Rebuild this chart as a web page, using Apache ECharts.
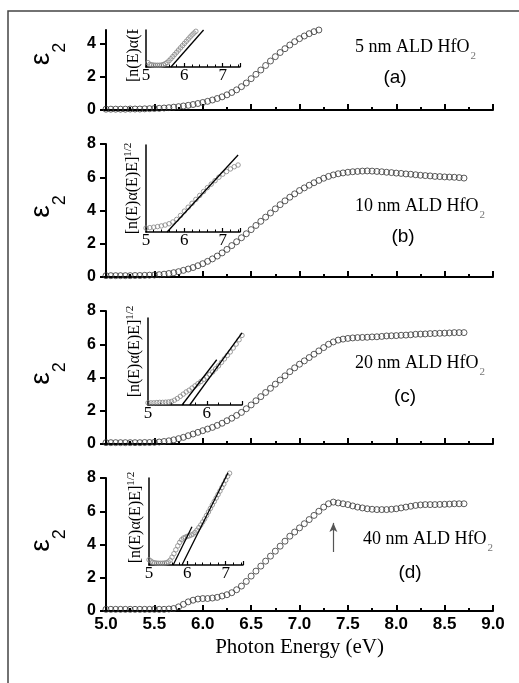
<!DOCTYPE html>
<html>
<head>
<meta charset="utf-8">
<script src="https://cdn.jsdelivr.net/npm/echarts@6/dist/echarts.min.js"></script>
<style>
html,body{margin:0;padding:0;background:#fff;}
#c{width:519px;height:683px;}
</style>
</head>
<body>
<div id="c"></div>
<script>
// ---- data ----
const energy = [5.00,5.05,5.10,5.15,5.20,5.25,5.30,5.35,5.40,5.45,5.50,5.55,5.60,5.65,5.70,5.75,5.80,5.85,5.90,5.95,
  6.00,6.05,6.10,6.15,6.20,6.25,6.30,6.35,6.40,6.45,6.50,6.55,6.60,6.65,6.70,6.75,6.80,6.85,6.90,6.95,
  7.00,7.05,7.10,7.15,7.20,7.25,7.30,7.35,7.40,7.45,7.50,7.55,7.60,7.65,7.70,7.75,7.80,7.85,7.90,7.95,
  8.00,8.05,8.10,8.15,8.20,8.25,8.30,8.35,8.40,8.45,8.50,8.55,8.60,8.65,8.70];

const eps2_5nm = [0.05,0.05,0.05,0.05,0.05,0.06,0.06,0.06,0.07,0.08,
  0.09,0.10,0.12,0.14,0.17,0.20,0.24,0.28,0.33,0.39,
  0.45,0.52,0.60,0.69,0.79,0.91,1.05,1.21,1.40,1.62,
  1.88,2.14,2.40,2.67,2.94,3.20,3.45,3.68,3.90,4.10,
  4.28,4.44,4.58,4.70,4.80];

const eps2_10nm = [0.08,0.08,0.08,0.08,0.08,0.08,0.09,0.09,0.10,0.11,
  0.12,0.14,0.17,0.21,0.26,0.32,0.40,0.48,0.57,0.68,
  0.80,0.94,1.09,1.26,1.45,1.66,1.89,2.12,2.36,2.60,
  2.85,3.10,3.35,3.60,3.85,4.10,4.35,4.58,4.80,5.00,
  5.20,5.36,5.52,5.67,5.81,5.94,6.05,6.14,6.21,6.26,
  6.30,6.33,6.35,6.37,6.38,6.37,6.35,6.33,6.30,6.28,
  6.25,6.23,6.20,6.18,6.15,6.12,6.10,6.08,6.05,6.04,
  6.02,6.01,6.00,5.98,5.95];

const eps2_20nm = [0.08,0.08,0.08,0.08,0.08,0.08,0.08,0.08,0.09,0.09,
  0.10,0.12,0.15,0.19,0.25,0.32,0.40,0.50,0.60,0.70,
  0.80,0.90,1.00,1.12,1.25,1.40,1.55,1.72,1.90,2.12,
  2.35,2.60,2.85,3.10,3.35,3.60,3.85,4.10,4.35,4.58,
  4.80,5.00,5.20,5.40,5.60,5.80,6.00,6.14,6.25,6.31,
  6.35,6.38,6.40,6.41,6.42,6.44,6.45,6.47,6.50,6.51,
  6.52,6.54,6.55,6.57,6.60,6.61,6.62,6.64,6.65,6.66,
  6.67,6.68,6.70,6.70,6.70];

const eps2_40nm = [0.10,0.10,0.10,0.10,0.10,0.10,0.10,0.10,0.10,0.10,
  0.10,0.10,0.10,0.12,0.15,0.25,0.40,0.55,0.65,0.72,
  0.75,0.75,0.78,0.82,0.90,0.98,1.10,1.28,1.50,1.78,
  2.10,2.40,2.70,3.00,3.30,3.60,3.90,4.20,4.50,4.75,
  5.00,5.25,5.50,5.75,6.00,6.25,6.45,6.55,6.50,6.45,
  6.40,6.32,6.25,6.20,6.15,6.12,6.10,6.10,6.10,6.12,
  6.15,6.20,6.25,6.30,6.35,6.38,6.40,6.40,6.40,6.41,
  6.42,6.43,6.45,6.45,6.45];

// insets: [n(E)α(E)E]^1/2 (arbitrary units)
const insetA_E = [5.05,5.10,5.15,5.20,5.25,5.30,5.35,5.40,5.45,5.50,5.55,5.60,5.65,5.70,5.75,5.80,5.85,5.90,5.95,6.00,6.05,6.10,6.15,6.20,6.25,6.30];
const insetA_v = [0.50,0.30,0.25,0.22,0.20,0.20,0.20,0.22,0.28,0.38,0.52,0.72,0.95,1.20,1.45,1.70,1.95,2.20,2.45,2.70,2.95,3.20,3.45,3.68,3.90,4.10];
const insetA_fit = [[5.65,0],[6.5,4.25]];

const insetB_E = [5.0,5.1,5.2,5.3,5.4,5.5,5.6,5.7,5.8,5.9,6.0,6.1,6.2,6.3,6.4,6.5,6.6,6.7,6.8,6.9,7.0,7.1,7.2,7.3,7.4];
const insetB_v = [0.45,0.50,0.55,0.62,0.70,0.80,0.95,1.15,1.45,1.90,2.40,2.85,3.30,3.75,4.20,4.65,5.10,5.50,5.90,6.30,6.65,6.95,7.25,7.50,7.70];
const insetB_fit = [[5.55,0],[7.4,8.85]];

const insetC_E = [5.00,5.05,5.10,5.15,5.20,5.25,5.30,5.35,5.40,5.45,5.50,5.55,5.60,5.65,5.70,5.75,5.80,5.85,5.90,5.95,6.00,6.05,6.10,6.15,6.20,6.25,6.30,6.35,6.40,6.45,6.50,6.55,6.60];
const insetC_v = [0.25,0.25,0.25,0.28,0.30,0.30,0.32,0.35,0.40,0.55,0.75,1.00,1.25,1.50,1.70,1.95,2.20,2.45,2.70,2.95,3.20,3.50,3.80,4.15,4.50,4.90,5.30,5.70,6.10,6.55,7.00,7.50,8.00];
const insetC_fit1 = [[5.58,0],[6.17,5.2]];
const insetC_fit2 = [[5.71,0],[6.6,8.3]];

const insetD_E = [5.00,5.05,5.10,5.15,5.20,5.25,5.30,5.35,5.40,5.45,5.50,5.55,5.60,5.65,5.70,5.75,5.80,5.85,5.90,5.95,6.00,6.05,6.10,6.15,6.20,6.25,6.30,6.35,6.40,6.45,6.50,6.55,6.60,6.65,6.70,6.75,6.80,6.85,6.90,6.95,7.00,7.05,7.10];
const insetD_v = [0.60,0.45,0.30,0.25,0.22,0.20,0.20,0.20,0.22,0.25,0.35,0.55,0.90,1.30,1.75,2.20,2.60,2.90,3.10,3.20,3.30,3.35,3.45,3.55,3.75,4.00,4.30,4.60,4.95,5.30,5.70,6.10,6.50,6.90,7.30,7.70,8.10,8.50,8.90,9.30,9.75,10.20,10.55];
const insetD_fit1 = [[5.63,0],[6.12,4.4]];
const insetD_fit2 = [[5.86,0],[7.06,10.6]];

const arrowE = 7.35;
const arrowFromTo = [3.55, 5.3];

const panelLabels = ['5 nm ALD HfO', '10 nm ALD HfO', '20 nm ALD HfO', '40 nm ALD HfO'];
const panelLetters = ['(a)', '(b)', '(c)', '(d)'];

// ---- chart ----
const pairs = (xs, ys) => ys.map((v, i) => [xs[i], v]);
const mainSeriesData = [eps2_5nm, eps2_10nm, eps2_20nm, eps2_40nm];

const mainGrids = [
  {left:106, top:30, width:387, height:80},
  {left:106, top:144, width:387, height:133},
  {left:106, top:311, width:387, height:133},
  {left:106, top:478, width:387, height:133}
];
const insetGrids = [
  {left:146, top:30, width:94, height:37},
  {left:146, top:145, width:94, height:87},
  {left:148, top:318, width:94, height:87},
  {left:149, top:478, width:94, height:87}
];
const grids = mainGrids.concat(insetGrids).map(g => Object.assign({outerBoundsMode:'none', containLabel:false}, g));

const sans = 'Liberation Sans';
const serif = 'Liberation Serif';

const xAxes = [];
const yAxes = [];
for (let i = 0; i < 4; i++) {
  xAxes.push({
    type:'value', gridIndex:i, min:5, max:9, interval:0.5,
    axisLine:{show:true, onZero:false, lineStyle:{color:'#000', width:2}},
    axisTick:{show:true, inside:true, length:6, lineStyle:{color:'#000', width:2}},
    minorTick:{show:true, splitNumber:2, length:3, lineStyle:{color:'#000', width:2}},
    splitLine:{show:false}, minorSplitLine:{show:false},
    axisLabel:{show:i===3, fontFamily:sans, fontWeight:'bold', fontSize:17, color:'#000', margin:5,
      formatter: v => v.toFixed(1)},
    name: i===3 ? 'Photon Energy (eV)' : '',
    nameLocation:'middle', nameGap:26,
    nameTextStyle:{fontFamily:serif, fontSize:21, color:'#000'}
  });
  yAxes.push({
    type:'value', gridIndex:i, min:0, max: i===0 ? 4.8 : 8, interval:2,
    axisLine:{show:true, onZero:false, lineStyle:{color:'#000', width:2}},
    axisTick:{show:true, length:6, lineStyle:{color:'#000', width:2}},
    splitLine:{show:false},
    axisLabel:{fontFamily:sans, fontWeight:'bold', fontSize:16, color:'#000', margin:10},
    name:'{e|ε}{s|2}', nameLocation:'middle', nameRotate:90, nameGap:49,
    nameTextStyle:{
      padding: i===0 ? [0,0,0,32] : [0,0,0,8],
      rich:{
        e:{fontFamily:sans, fontSize:28, color:'#000', verticalAlign:'top', lineHeight:30},
        s:{fontFamily:sans, fontSize:18, color:'#000', verticalAlign:'top', lineHeight:18, padding:[24,0,0,0]}
      }
    }
  });
}
const insetXMax = [7.45, 7.45, 6.6, 7.45];
const insetYMax = [4.25, 10, 10, 10];
const insetNamePad = [0, 0, 20, 8];
for (let k = 0; k < 4; k++) {
  xAxes.push({
    type:'value', gridIndex:4+k, min:5, max:insetXMax[k], interval:1,
    axisLine:{show:true, onZero:false, lineStyle:{color:'#000', width:1.5}},
    axisTick:{show:true, inside:true, length:4, lineStyle:{color:'#000', width:1.2}},
    minorTick:{show:true, splitNumber:5, length:2.5, lineStyle:{color:'#000', width:1}},
    splitLine:{show:false},
    axisLabel:{fontFamily:serif, fontSize:17, color:'#000', margin:0, showMaxLabel:false}
  });
  yAxes.push({
    type:'value', gridIndex:4+k, min:0, max:insetYMax[k],
    axisLine:{show:true, onZero:false, lineStyle:{color:'#000', width:1.5}},
    axisTick:{show:false}, axisLabel:{show:false}, splitLine:{show:false},
    name: k===0 ? '' : '{m|[n(E)α(E)E]}{s|1/2}',
    nameLocation:'middle', nameRotate:90, nameGap:5,
    nameTextStyle:{
      padding:[0,0,0,insetNamePad[k]],
      rich:{
        m:{fontFamily:serif, fontSize:16, color:'#000', lineHeight:18, verticalAlign:'bottom'},
        s:{fontFamily:serif, fontSize:11, color:'#000', lineHeight:12, verticalAlign:'top'}
      }
    }
  });
}

const series = [];
for (let i = 0; i < 4; i++) {
  const s = {
    type:'scatter', xAxisIndex:i, yAxisIndex:i,
    data: pairs(energy, mainSeriesData[i]),
    symbol:'circle', symbolSize:6,
    itemStyle:{color:'rgba(255,255,255,0)', borderColor:'#333', borderWidth:1},
    silent:true
  };
  if (i === 3) {
    s.markLine = {
      silent:true, symbol:['none','arrow'], symbolSize:[6,9],
      label:{show:false},
      lineStyle:{color:'#555', width:1.2, type:'solid'},
      data:[[{coord:[arrowE, arrowFromTo[0]]},{coord:[arrowE, arrowFromTo[1]]}]]
    };
  }
  series.push(s);
}
const insetData = [pairs(insetA_E, insetA_v), pairs(insetB_E, insetB_v), pairs(insetC_E, insetC_v), pairs(insetD_E, insetD_v)];
const insetFits = [[insetA_fit], [insetB_fit], [insetC_fit1, insetC_fit2], [insetD_fit1, insetD_fit2]];
for (let k = 0; k < 4; k++) {
  series.push({
    type:'scatter', xAxisIndex:4+k, yAxisIndex:4+k, data: insetData[k],
    symbol:'circle', symbolSize:4.5, clip:false,
    itemStyle:{color:'rgba(255,255,255,0)', borderColor:'#858585', borderWidth:1},
    silent:true
  });
  insetFits[k].forEach(f => series.push({
    type:'line', xAxisIndex:4+k, yAxisIndex:4+k, data:f,
    symbol:'none', showSymbol:false, clip:false,
    lineStyle:{color:'#000', width:1.3}, silent:true, z:3
  }));
}

const annPos = [[355,48,395,78],[355,207,403,237],[355,364,405,397],[363,540,410,573]];
const graphic = [];
for (let i = 0; i < 4; i++) {
  graphic.push({
    type:'text', x:annPos[i][0], y:annPos[i][1], z:50,
    style:{text:'{t|' + panelLabels[i] + '}{s|2}', align:'left', verticalAlign:'middle',
      rich:{
        t:{fontFamily:serif, fontSize:18, fill:'#000', lineHeight:20, verticalAlign:'top'},
        s:{fontFamily:serif, fontSize:11, fill:'#777', lineHeight:11, verticalAlign:'top', padding:[13,0,0,1]}
      }}
  });
  graphic.push({
    type:'text', x:annPos[i][2], y:annPos[i][3], z:50,
    style:{text:panelLetters[i], align:'center', verticalAlign:'middle', fontFamily:sans, fontSize:19, fill:'#000'}
  });
}
// clipped inset (a) label
graphic.push({
  type:'text', x:133, y:82, rotation:Math.PI/2, z:60,
  style:{text:'{m|[n(E)α(E)E]}{s|1/2}', align:'left', verticalAlign:'middle',
    rich:{
      m:{fontFamily:serif, fontSize:16, fill:'#000', lineHeight:18, verticalAlign:'bottom'},
      s:{fontFamily:serif, fontSize:11, fill:'#000', lineHeight:12, verticalAlign:'top'}
    }}
});
graphic.push({type:'rect', z:70, shape:{x:112, y:0, width:33, height:29.5}, style:{fill:'#fff'}});
graphic.push({type:'polyline', z:80, shape:{points:[[8,683],[8,11],[519,11]]}, style:{stroke:'#444', lineWidth:1.5, fill:null}});

const chart = echarts.init(document.getElementById('c'), null, {renderer:'canvas'});
chart.setOption({
  animation:false,
  backgroundColor:'#fff',
  grid: grids,
  xAxis: xAxes,
  yAxis: yAxes,
  series: series,
  graphic: graphic
});
</script>
</body>
</html>
